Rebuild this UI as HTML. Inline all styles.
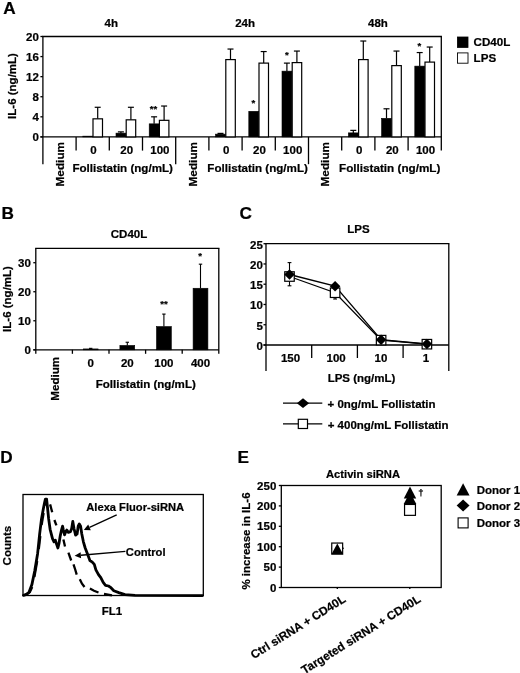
<!DOCTYPE html>
<html lang="en"><head><meta charset="utf-8"><title>Figure</title>
<style>
html,body{margin:0;padding:0;background:#fff}
svg{display:block}
svg text{font-family:"Liberation Sans", sans-serif;font-weight:bold;fill:#000;stroke:#000;stroke-width:0.22px}
</style></head><body>
<svg width="520" height="673" viewBox="0 0 520 673">
<rect x="0" y="0" width="520" height="673" fill="#fff"/>
<text x="3.2" y="13.6" font-size="17.2" text-anchor="start" >A</text>
<line x1="42.25" y1="36.5" x2="441.95" y2="36.5" stroke="#000" stroke-width="1.3" />
<line x1="40.4" y1="136.9" x2="441.3" y2="136.9" stroke="#000" stroke-width="1.3" />
<line x1="42.9" y1="36.5" x2="42.9" y2="164.2" stroke="#000" stroke-width="1.3" />
<line x1="441.3" y1="36.5" x2="441.3" y2="150.6" stroke="#000" stroke-width="1.3" />
<line x1="40.4" y1="36.5" x2="42.9" y2="36.5" stroke="#000" stroke-width="1.3" />
<text x="38.9" y="40.5" font-size="11.5" text-anchor="end" >20</text>
<line x1="40.4" y1="56.58" x2="42.9" y2="56.58" stroke="#000" stroke-width="1.3" />
<text x="38.9" y="60.58" font-size="11.5" text-anchor="end" >16</text>
<line x1="40.4" y1="76.66" x2="42.9" y2="76.66" stroke="#000" stroke-width="1.3" />
<text x="38.9" y="80.66" font-size="11.5" text-anchor="end" >12</text>
<line x1="40.4" y1="96.74" x2="42.9" y2="96.74" stroke="#000" stroke-width="1.3" />
<text x="38.9" y="100.74" font-size="11.5" text-anchor="end" >8</text>
<line x1="40.4" y1="116.82" x2="42.9" y2="116.82" stroke="#000" stroke-width="1.3" />
<text x="38.9" y="120.82" font-size="11.5" text-anchor="end" >4</text>
<line x1="40.4" y1="136.9" x2="42.9" y2="136.9" stroke="#000" stroke-width="1.3" />
<text x="38.9" y="140.9" font-size="11.5" text-anchor="end" >0</text>
<text x="16.3" y="86" font-size="11.5" text-anchor="middle" transform="rotate(-90 16.3 86)" >IL-6 (ng/mL)</text>
<line x1="76.1" y1="136.9" x2="76.1" y2="150.6" stroke="#000" stroke-width="1.3" />
<line x1="109.3" y1="136.9" x2="109.3" y2="150.6" stroke="#000" stroke-width="1.3" />
<line x1="142.5" y1="136.9" x2="142.5" y2="150.6" stroke="#000" stroke-width="1.3" />
<line x1="175.7" y1="136.9" x2="175.7" y2="164.2" stroke="#000" stroke-width="1.3" />
<line x1="208.9" y1="136.9" x2="208.9" y2="150.6" stroke="#000" stroke-width="1.3" />
<line x1="242.1" y1="136.9" x2="242.1" y2="150.6" stroke="#000" stroke-width="1.3" />
<line x1="275.3" y1="136.9" x2="275.3" y2="150.6" stroke="#000" stroke-width="1.3" />
<line x1="308.5" y1="136.9" x2="308.5" y2="164.2" stroke="#000" stroke-width="1.3" />
<line x1="341.7" y1="136.9" x2="341.7" y2="150.6" stroke="#000" stroke-width="1.3" />
<line x1="374.9" y1="136.9" x2="374.9" y2="150.6" stroke="#000" stroke-width="1.3" />
<line x1="408.1" y1="136.9" x2="408.1" y2="150.6" stroke="#000" stroke-width="1.3" />
<text x="111.3" y="26.5" font-size="11.5" text-anchor="middle" >4h</text>
<text x="60.7" y="141.9" font-size="11.8" text-anchor="end" transform="rotate(-90 60.7 141.9)" dominant-baseline="middle">Medium</text>
<line x1="97.7" y1="118.83" x2="97.7" y2="107.28" stroke="#000" stroke-width="1.2" />
<line x1="94.7" y1="107.28" x2="100.7" y2="107.28" stroke="#000" stroke-width="1.2" />
<rect x="82.80" y="136.15" width="9.90" height="0.75" fill="#000" stroke="#000" stroke-width="0.6"/>
<rect x="93.00" y="118.83" width="9.50" height="18.07" fill="#fff" stroke="#000" stroke-width="1.2"/>
<text x="93.5" y="154.1" font-size="11.5" text-anchor="middle" >0</text>
<line x1="120.9" y1="133.13" x2="120.9" y2="131.88" stroke="#000" stroke-width="1.2" />
<line x1="117.9" y1="131.88" x2="123.9" y2="131.88" stroke="#000" stroke-width="1.2" />
<line x1="130.9" y1="119.83" x2="130.9" y2="107.28" stroke="#000" stroke-width="1.2" />
<line x1="127.9" y1="107.28" x2="133.9" y2="107.28" stroke="#000" stroke-width="1.2" />
<rect x="116.00" y="133.13" width="9.90" height="3.77" fill="#000" stroke="#000" stroke-width="0.6"/>
<rect x="126.20" y="119.83" width="9.50" height="17.07" fill="#fff" stroke="#000" stroke-width="1.2"/>
<text x="126.7" y="154.1" font-size="11.5" text-anchor="middle" >20</text>
<line x1="154.1" y1="123.85" x2="154.1" y2="116.82" stroke="#000" stroke-width="1.2" />
<line x1="151.1" y1="116.82" x2="157.1" y2="116.82" stroke="#000" stroke-width="1.2" />
<line x1="164.1" y1="120.33" x2="164.1" y2="106.03" stroke="#000" stroke-width="1.2" />
<line x1="161.1" y1="106.03" x2="167.1" y2="106.03" stroke="#000" stroke-width="1.2" />
<rect x="149.20" y="123.85" width="9.90" height="13.05" fill="#000" stroke="#000" stroke-width="0.6"/>
<rect x="159.40" y="120.33" width="9.50" height="16.57" fill="#fff" stroke="#000" stroke-width="1.2"/>
<text x="159.9" y="154.1" font-size="11.5" text-anchor="middle" >100</text>
<text x="122.7" y="171.6" font-size="11.6" text-anchor="middle" >Follistatin (ng/mL)</text>
<text x="245.1" y="26.5" font-size="11.5" text-anchor="middle" >24h</text>
<text x="193.5" y="141.9" font-size="11.8" text-anchor="end" transform="rotate(-90 193.5 141.9)" dominant-baseline="middle">Medium</text>
<line x1="220.5" y1="134.14" x2="220.5" y2="133.39" stroke="#000" stroke-width="1.2" />
<line x1="217.5" y1="133.39" x2="223.5" y2="133.39" stroke="#000" stroke-width="1.2" />
<line x1="230.5" y1="59.59" x2="230.5" y2="49.05" stroke="#000" stroke-width="1.2" />
<line x1="227.5" y1="49.05" x2="233.5" y2="49.05" stroke="#000" stroke-width="1.2" />
<rect x="215.60" y="134.14" width="9.90" height="2.76" fill="#000" stroke="#000" stroke-width="0.6"/>
<rect x="225.80" y="59.59" width="9.50" height="77.31" fill="#fff" stroke="#000" stroke-width="1.2"/>
<text x="226.3" y="154.1" font-size="11.5" text-anchor="middle" >0</text>
<line x1="263.7" y1="63.11" x2="263.7" y2="51.56" stroke="#000" stroke-width="1.2" />
<line x1="260.7" y1="51.56" x2="266.7" y2="51.56" stroke="#000" stroke-width="1.2" />
<rect x="248.80" y="111.30" width="9.90" height="25.60" fill="#000" stroke="#000" stroke-width="0.6"/>
<rect x="259.00" y="63.11" width="9.50" height="73.79" fill="#fff" stroke="#000" stroke-width="1.2"/>
<text x="259.5" y="154.1" font-size="11.5" text-anchor="middle" >20</text>
<line x1="286.9" y1="71.14" x2="286.9" y2="63.11" stroke="#000" stroke-width="1.2" />
<line x1="283.9" y1="63.11" x2="289.9" y2="63.11" stroke="#000" stroke-width="1.2" />
<line x1="296.9" y1="62.6" x2="296.9" y2="51.06" stroke="#000" stroke-width="1.2" />
<line x1="293.9" y1="51.06" x2="299.9" y2="51.06" stroke="#000" stroke-width="1.2" />
<rect x="282.00" y="71.14" width="9.90" height="65.76" fill="#000" stroke="#000" stroke-width="0.6"/>
<rect x="292.20" y="62.60" width="9.50" height="74.30" fill="#fff" stroke="#000" stroke-width="1.2"/>
<text x="292.7" y="154.1" font-size="11.5" text-anchor="middle" >100</text>
<text x="257.6" y="171.6" font-size="11.6" text-anchor="middle" >Follistatin (ng/mL)</text>
<text x="377.9" y="26.5" font-size="11.5" text-anchor="middle" >48h</text>
<text x="326.3" y="141.9" font-size="11.8" text-anchor="end" transform="rotate(-90 326.3 141.9)" dominant-baseline="middle">Medium</text>
<line x1="353.3" y1="132.88" x2="353.3" y2="130.37" stroke="#000" stroke-width="1.2" />
<line x1="350.3" y1="130.37" x2="356.3" y2="130.37" stroke="#000" stroke-width="1.2" />
<line x1="363.3" y1="59.59" x2="363.3" y2="41.02" stroke="#000" stroke-width="1.2" />
<line x1="360.3" y1="41.02" x2="366.3" y2="41.02" stroke="#000" stroke-width="1.2" />
<rect x="348.40" y="132.88" width="9.90" height="4.02" fill="#000" stroke="#000" stroke-width="0.6"/>
<rect x="358.60" y="59.59" width="9.50" height="77.31" fill="#fff" stroke="#000" stroke-width="1.2"/>
<text x="359.1" y="154.1" font-size="11.5" text-anchor="middle" >0</text>
<line x1="386.5" y1="118.33" x2="386.5" y2="108.79" stroke="#000" stroke-width="1.2" />
<line x1="383.5" y1="108.79" x2="389.5" y2="108.79" stroke="#000" stroke-width="1.2" />
<line x1="396.5" y1="65.62" x2="396.5" y2="51.06" stroke="#000" stroke-width="1.2" />
<line x1="393.5" y1="51.06" x2="399.5" y2="51.06" stroke="#000" stroke-width="1.2" />
<rect x="381.60" y="118.33" width="9.90" height="18.57" fill="#000" stroke="#000" stroke-width="0.6"/>
<rect x="391.80" y="65.62" width="9.50" height="71.28" fill="#fff" stroke="#000" stroke-width="1.2"/>
<text x="392.3" y="154.1" font-size="11.5" text-anchor="middle" >20</text>
<line x1="419.7" y1="66.12" x2="419.7" y2="52.56" stroke="#000" stroke-width="1.2" />
<line x1="416.7" y1="52.56" x2="422.7" y2="52.56" stroke="#000" stroke-width="1.2" />
<line x1="429.7" y1="62.1" x2="429.7" y2="47.04" stroke="#000" stroke-width="1.2" />
<line x1="426.7" y1="47.04" x2="432.7" y2="47.04" stroke="#000" stroke-width="1.2" />
<rect x="414.80" y="66.12" width="9.90" height="70.78" fill="#000" stroke="#000" stroke-width="0.6"/>
<rect x="425.00" y="62.10" width="9.50" height="74.80" fill="#fff" stroke="#000" stroke-width="1.2"/>
<text x="425.5" y="154.1" font-size="11.5" text-anchor="middle" >100</text>
<text x="389.7" y="171.6" font-size="11.7" text-anchor="middle" >Follistatin (ng/mL)</text>
<text x="153.5" y="112.0" font-size="9.6" text-anchor="middle" >**</text>
<text x="253.3" y="105.6" font-size="9.6" text-anchor="middle" >*</text>
<text x="286.8" y="58.1" font-size="9.6" text-anchor="middle" >*</text>
<text x="419.3" y="49.0" font-size="9.6" text-anchor="middle" >*</text>
<rect x="457.40" y="37.00" width="10.60" height="10.40" fill="#000" stroke="#000" stroke-width="0.8"/>
<text x="473.6" y="46.1" font-size="11.6" text-anchor="start" >CD40L</text>
<rect x="457.50" y="52.90" width="10.50" height="10.30" fill="#fff" stroke="#000" stroke-width="0.9"/>
<text x="473.6" y="61.7" font-size="11.6" text-anchor="start" >LPS</text>
<text x="1.5" y="218.8" font-size="17.2" text-anchor="start" >B</text>
<text x="129" y="238.1" font-size="11.5" text-anchor="middle" >CD40L</text>
<line x1="35.15" y1="248.4" x2="219.45" y2="248.4" stroke="#000" stroke-width="1.3" />
<line x1="33.3" y1="349.8" x2="218.8" y2="349.8" stroke="#000" stroke-width="1.3" />
<line x1="35.8" y1="248.4" x2="35.8" y2="353.8" stroke="#000" stroke-width="1.3" />
<line x1="218.8" y1="248.4" x2="218.8" y2="353.8" stroke="#000" stroke-width="1.3" />
<line x1="33.3" y1="262.71" x2="35.8" y2="262.71" stroke="#000" stroke-width="1.3" />
<text x="30.8" y="266.71" font-size="11.5" text-anchor="end" >30</text>
<line x1="33.3" y1="291.74" x2="35.8" y2="291.74" stroke="#000" stroke-width="1.3" />
<text x="30.8" y="295.74" font-size="11.5" text-anchor="end" >20</text>
<line x1="33.3" y1="320.77" x2="35.8" y2="320.77" stroke="#000" stroke-width="1.3" />
<text x="30.8" y="324.77" font-size="11.5" text-anchor="end" >10</text>
<line x1="33.3" y1="349.8" x2="35.8" y2="349.8" stroke="#000" stroke-width="1.3" />
<text x="30.8" y="353.8" font-size="11.5" text-anchor="end" >0</text>
<text x="11" y="299" font-size="11.5" text-anchor="middle" transform="rotate(-90 11 299)" >IL-6 (ng/mL)</text>
<line x1="72.4" y1="349.8" x2="72.4" y2="353.8" stroke="#000" stroke-width="1.3" />
<line x1="109.0" y1="349.8" x2="109.0" y2="353.8" stroke="#000" stroke-width="1.3" />
<line x1="145.6" y1="349.8" x2="145.6" y2="353.8" stroke="#000" stroke-width="1.3" />
<line x1="182.2" y1="349.8" x2="182.2" y2="353.8" stroke="#000" stroke-width="1.3" />
<text x="55.8" y="356.9" font-size="11.6" text-anchor="end" transform="rotate(-90 55.8 356.9)" dominant-baseline="middle">Medium</text>
<line x1="90.7" y1="348.93" x2="90.7" y2="348.35" stroke="#000" stroke-width="1.1" />
<line x1="89.0" y1="348.35" x2="92.4" y2="348.35" stroke="#000" stroke-width="1.1" />
<rect x="83.30" y="348.93" width="14.80" height="0.87" fill="#000" stroke="#000" stroke-width="0.6"/>
<text x="90.7" y="367.4" font-size="11.5" text-anchor="middle" >0</text>
<line x1="127.3" y1="345.45" x2="127.3" y2="342.25" stroke="#000" stroke-width="1.1" />
<line x1="125.6" y1="342.25" x2="129.0" y2="342.25" stroke="#000" stroke-width="1.1" />
<rect x="119.90" y="345.45" width="14.80" height="4.35" fill="#000" stroke="#000" stroke-width="0.6"/>
<text x="127.3" y="367.4" font-size="11.5" text-anchor="middle" >20</text>
<line x1="163.9" y1="326.58" x2="163.9" y2="314.09" stroke="#000" stroke-width="1.1" />
<line x1="162.2" y1="314.09" x2="165.6" y2="314.09" stroke="#000" stroke-width="1.1" />
<rect x="156.50" y="326.58" width="14.80" height="23.22" fill="#000" stroke="#000" stroke-width="0.6"/>
<text x="163.9" y="367.4" font-size="11.5" text-anchor="middle" >100</text>
<line x1="200.5" y1="288.26" x2="200.5" y2="264.17" stroke="#000" stroke-width="1.1" />
<line x1="198.8" y1="264.17" x2="202.2" y2="264.17" stroke="#000" stroke-width="1.1" />
<rect x="193.10" y="288.26" width="14.80" height="61.54" fill="#000" stroke="#000" stroke-width="0.6"/>
<text x="200.5" y="367.4" font-size="11.5" text-anchor="middle" >400</text>
<text x="145.75" y="387.6" font-size="11.55" text-anchor="middle" >Follistatin (ng/mL)</text>
<text x="164" y="306.7" font-size="9.6" text-anchor="middle" >**</text>
<text x="200" y="259.1" font-size="9.6" text-anchor="middle" >*</text>
<text x="239.6" y="218.6" font-size="17.2" text-anchor="start" >C</text>
<text x="358.5" y="232.8" font-size="11.5" text-anchor="middle" >LPS</text>
<line x1="265.35" y1="243.7" x2="449.45" y2="243.7" stroke="#000" stroke-width="1.3" />
<line x1="263.5" y1="345" x2="448.8" y2="345" stroke="#000" stroke-width="1.3" />
<line x1="266" y1="243.7" x2="266" y2="371" stroke="#000" stroke-width="1.3" />
<line x1="448.8" y1="243.7" x2="448.8" y2="371" stroke="#000" stroke-width="1.3" />
<line x1="263.5" y1="243.7" x2="266" y2="243.7" stroke="#000" stroke-width="1.3" />
<text x="262.8" y="248.5" font-size="11.5" text-anchor="end" >25</text>
<line x1="263.5" y1="263.96" x2="266" y2="263.96" stroke="#000" stroke-width="1.3" />
<text x="262.8" y="268.76" font-size="11.5" text-anchor="end" >20</text>
<line x1="263.5" y1="284.22" x2="266" y2="284.22" stroke="#000" stroke-width="1.3" />
<text x="262.8" y="289.02" font-size="11.5" text-anchor="end" >15</text>
<line x1="263.5" y1="304.48" x2="266" y2="304.48" stroke="#000" stroke-width="1.3" />
<text x="262.8" y="309.28" font-size="11.5" text-anchor="end" >10</text>
<line x1="263.5" y1="324.74" x2="266" y2="324.74" stroke="#000" stroke-width="1.3" />
<text x="262.8" y="329.54" font-size="11.5" text-anchor="end" >5</text>
<line x1="263.5" y1="345.0" x2="266" y2="345.0" stroke="#000" stroke-width="1.3" />
<text x="262.8" y="349.8" font-size="11.5" text-anchor="end" >0</text>
<line x1="311.7" y1="345" x2="311.7" y2="358" stroke="#000" stroke-width="1.3" />
<line x1="357.4" y1="345" x2="357.4" y2="358" stroke="#000" stroke-width="1.3" />
<line x1="403.1" y1="345" x2="403.1" y2="358" stroke="#000" stroke-width="1.3" />
<text x="290.55" y="362" font-size="11.5" text-anchor="middle" >150</text>
<text x="336.15" y="362" font-size="11.5" text-anchor="middle" >100</text>
<text x="380.95" y="362" font-size="11.5" text-anchor="middle" >10</text>
<text x="425.95" y="362" font-size="11.5" text-anchor="middle" >1</text>
<text x="361.5" y="382" font-size="11.5" text-anchor="middle" >LPS (ng/mL)</text>
<polyline fill="none" stroke="#000" stroke-width="1.3" points="289.5,274.5 335.1,286.2 381.1,339.7 426.9,344.0"/>
<polyline fill="none" stroke="#000" stroke-width="1.3" points="289.5,276.5 335.1,292.7 381.1,340.1 426.9,344.2"/>
<line x1="289.5" y1="262.6" x2="289.5" y2="285.8" stroke="#000" stroke-width="1.1" />
<line x1="287.6" y1="262.6" x2="291.4" y2="262.6" stroke="#000" stroke-width="1.1" />
<line x1="287.6" y1="285.8" x2="291.4" y2="285.8" stroke="#000" stroke-width="1.1" />
<line x1="335.1" y1="283" x2="335.1" y2="299.0" stroke="#000" stroke-width="1.1" />
<line x1="333.2" y1="299.0" x2="337.0" y2="299.0" stroke="#000" stroke-width="1.1" />
<rect x="284.75" y="271.77" width="9.50" height="9.50" fill="#fff" stroke="#000" stroke-width="1.2"/>
<rect x="330.35" y="287.98" width="9.50" height="9.50" fill="#fff" stroke="#000" stroke-width="1.2"/>
<rect x="376.35" y="335.39" width="9.50" height="9.50" fill="#fff" stroke="#000" stroke-width="1.2"/>
<rect x="422.15" y="339.44" width="9.50" height="9.50" fill="#fff" stroke="#000" stroke-width="1.2"/>
<polygon points="289.5,269.2 294.8,274.5 289.5,279.8 284.2,274.5" fill="#000"/>
<polygon points="335.1,280.95 340.4,286.25 335.1,291.55 329.8,286.25" fill="#000"/>
<polygon points="381.1,334.43 386.4,339.73 381.1,345.03 375.8,339.73" fill="#000"/>
<polygon points="426.9,338.69 432.2,343.99 426.9,349.29 421.6,343.99" fill="#000"/>
<line x1="283" y1="403.2" x2="322.3" y2="403.2" stroke="#000" stroke-width="1.3" />
<polygon points="303,398.3 309.1,403.2 303,408.1 296.9,403.2" fill="#000"/>
<text x="327.5" y="408.1" font-size="11.5" text-anchor="start" >+ 0ng/mL Follistatin</text>
<line x1="283" y1="423.8" x2="322.3" y2="423.8" stroke="#000" stroke-width="1.3" />
<rect x="298.30" y="419.30" width="9.20" height="9.20" fill="#fff" stroke="#000" stroke-width="1.2"/>
<text x="327.7" y="428.6" font-size="11.5" text-anchor="start" >+ 400ng/mL Follistatin</text>
<text x="0.2" y="462.5" font-size="17.2" text-anchor="start" >D</text>
<rect x="23" y="494.5" width="180.3" height="101" fill="none" stroke="#000" stroke-width="1.3"/>
<text x="11.2" y="545.6" font-size="11.5" text-anchor="middle" transform="rotate(-90 11.2 545.6)" >Counts</text>
<text x="112" y="615" font-size="11.5" text-anchor="middle" >FL1</text>
<text x="86.3" y="511.3" font-size="11.15" text-anchor="start" >Alexa Fluor-siRNA</text>
<text x="125.8" y="555.6" font-size="11.2" text-anchor="start" >Control</text>
<polyline fill="none" stroke="#000" stroke-width="2.8" stroke-linejoin="round" stroke-linecap="round" points="23.5,595.3 26.5,594.3 29.0,592.3 31.9,584.6 34.7,571.0 37.6,553.7 39.6,534.4 41.5,519.0 43.4,508.5 44.6,502.5 45.4,499.2 46.6,499.2 47.5,507.5 48.6,518.4 50.1,529.3 52.5,538.7 54.0,541.8 55.3,540.2 56.8,544.9 57.9,548.0 59.0,543.4 60.3,535.6 61.5,530.1 62.6,526.2 63.4,530.1 64.6,534.8 65.7,531.7 66.8,530.1 68.4,532.4 70.4,531.7 71.7,528.5 72.8,521.4 74.0,528.5 75.6,535.2 77.1,534.0 78.2,526.2 79.3,523.9 80.6,526.2 81.8,534.0 83.4,541.8 85.2,548.0 87.6,554.3 89.9,560.5 92.3,562.1 94.3,564.4 95.9,569.9 98.5,574.6 100.8,577.7 103.2,582.4 105.5,585.3 108.5,586.0 110.5,587.3 113.8,590.8 118.8,592.6 125.0,594.6 135.0,595.4 202.5,595.6"/>
<polyline fill="none" stroke="#000" stroke-width="2.3" points="25.0,595.0 29.8,592.3 32.2,587.0"/>
<polyline fill="none" stroke="#000" stroke-width="2.3" points="34.4,577.0 37.2,561.0"/>
<polyline fill="none" stroke="#000" stroke-width="2.3" points="38.8,549.0 40.3,536.0"/>
<polyline fill="none" stroke="#000" stroke-width="2.3" points="41.6,525.0 43.6,513.0"/>
<polyline fill="none" stroke="#000" stroke-width="2.3" points="45.0,505.5 46.5,499.8 47.6,499.6"/>
<polyline fill="none" stroke="#000" stroke-width="2.3" points="50.1,504.4 52.2,512.2"/>
<polyline fill="none" stroke="#000" stroke-width="2.3" points="54.4,520.0 56.4,525.4"/>
<polyline fill="none" stroke="#000" stroke-width="2.3" points="63.4,539.5 65.0,546.5"/>
<polyline fill="none" stroke="#000" stroke-width="2.3" points="68.4,552.7 71.2,560.5"/>
<polyline fill="none" stroke="#000" stroke-width="2.3" points="73.5,564.4 75.2,569.5 76.7,574.6"/>
<polyline fill="none" stroke="#000" stroke-width="2.3" points="79.8,579.2 82.0,583.7 84.5,587.0"/>
<polyline fill="none" stroke="#000" stroke-width="2.3" points="89.9,588.6 94.0,590.8 98.5,592.5"/>
<polyline fill="none" stroke="#000" stroke-width="2.3" points="104.0,594.0 112.0,595.3"/>
<line x1="116.7" y1="514.8" x2="89.52" y2="527.36" stroke="#000" stroke-width="1.3" />
<polygon points="83.8,530.0 88.2,524.5 90.8,530.2" fill="#000"/>
<line x1="125.4" y1="551.3" x2="80.88" y2="555.24" stroke="#000" stroke-width="1.3" />
<polygon points="74.6,555.8 80.6,552.2 81.1,558.3" fill="#000"/>
<text x="237.4" y="462.5" font-size="17.2" text-anchor="start" >E</text>
<text x="363" y="478" font-size="11.2" text-anchor="middle" >Activin siRNA</text>
<rect x="281.3" y="485.5" width="159.9" height="102.0" fill="none" stroke="#000" stroke-width="1.3"/>
<line x1="278.8" y1="485.5" x2="281.3" y2="485.5" stroke="#000" stroke-width="1.3" />
<text x="276.3" y="489.5" font-size="11.5" text-anchor="end" >250</text>
<line x1="278.8" y1="505.9" x2="281.3" y2="505.9" stroke="#000" stroke-width="1.3" />
<text x="276.3" y="509.9" font-size="11.5" text-anchor="end" >200</text>
<line x1="278.8" y1="526.3" x2="281.3" y2="526.3" stroke="#000" stroke-width="1.3" />
<text x="276.3" y="530.3" font-size="11.5" text-anchor="end" >150</text>
<line x1="278.8" y1="546.7" x2="281.3" y2="546.7" stroke="#000" stroke-width="1.3" />
<text x="276.3" y="550.7" font-size="11.5" text-anchor="end" >100</text>
<line x1="278.8" y1="567.1" x2="281.3" y2="567.1" stroke="#000" stroke-width="1.3" />
<text x="276.3" y="571.1" font-size="11.5" text-anchor="end" >50</text>
<line x1="278.8" y1="587.5" x2="281.3" y2="587.5" stroke="#000" stroke-width="1.3" />
<text x="276.3" y="591.5" font-size="11.5" text-anchor="end" >0</text>
<text x="250.3" y="541" font-size="11.5" text-anchor="middle" transform="rotate(-90 250.3 541)" >% increase in IL-6</text>
<line x1="337.3" y1="587.5" x2="337.3" y2="589" stroke="#000" stroke-width="1.3" />
<line x1="409.8" y1="587.5" x2="409.8" y2="589" stroke="#000" stroke-width="1.3" />
<polygon points="337.6,542.8 344.1,548.3 337.6,553.8 331.1,548.3" fill="#000"/>
<rect x="331.75" y="543.05" width="10.90" height="10.90" fill="#fff" stroke="#000" stroke-width="1.2"/>
<polygon points="337.3,543.5 343.3,554.5 331.3,554.5" fill="#000"/>
<rect x="404.55" y="504.45" width="10.90" height="10.90" fill="#fff" stroke="#000" stroke-width="1.2"/>
<polygon points="410,492.3 416.3,504.1 403.7,504.1" fill="#000"/>
<polygon points="410,486.6 416.2,498.5 403.8,498.5" fill="#000"/>
<text x="420.9" y="496.0" font-size="9.6" text-anchor="middle" stroke="#000" stroke-width="0.35">†</text>
<polygon points="463.1,483.2 469.55,495.4 456.65,495.4" fill="#000"/>
<text x="476.7" y="494.3" font-size="11.5" text-anchor="start" >Donor 1</text>
<polygon points="463.1,499.5 469.55,505.5 463.1,511.5 456.65,505.5" fill="#000"/>
<text x="476.7" y="509.7" font-size="11.5" text-anchor="start" >Donor 2</text>
<rect x="458.10" y="517.90" width="10.00" height="10.00" fill="#fff" stroke="#000" stroke-width="1.1"/>
<text x="476.7" y="526.8" font-size="11.5" text-anchor="start" >Donor 3</text>
<text x="346.5" y="601.3" font-size="11.8" text-anchor="end" transform="rotate(-32 346.5 601.3)" >Ctrl siRNA + CD40L</text>
<text x="421.5" y="601.3" font-size="11.8" text-anchor="end" transform="rotate(-32 421.5 601.3)" >Targeted siRNA + CD40L</text>
</svg>
</body></html>
